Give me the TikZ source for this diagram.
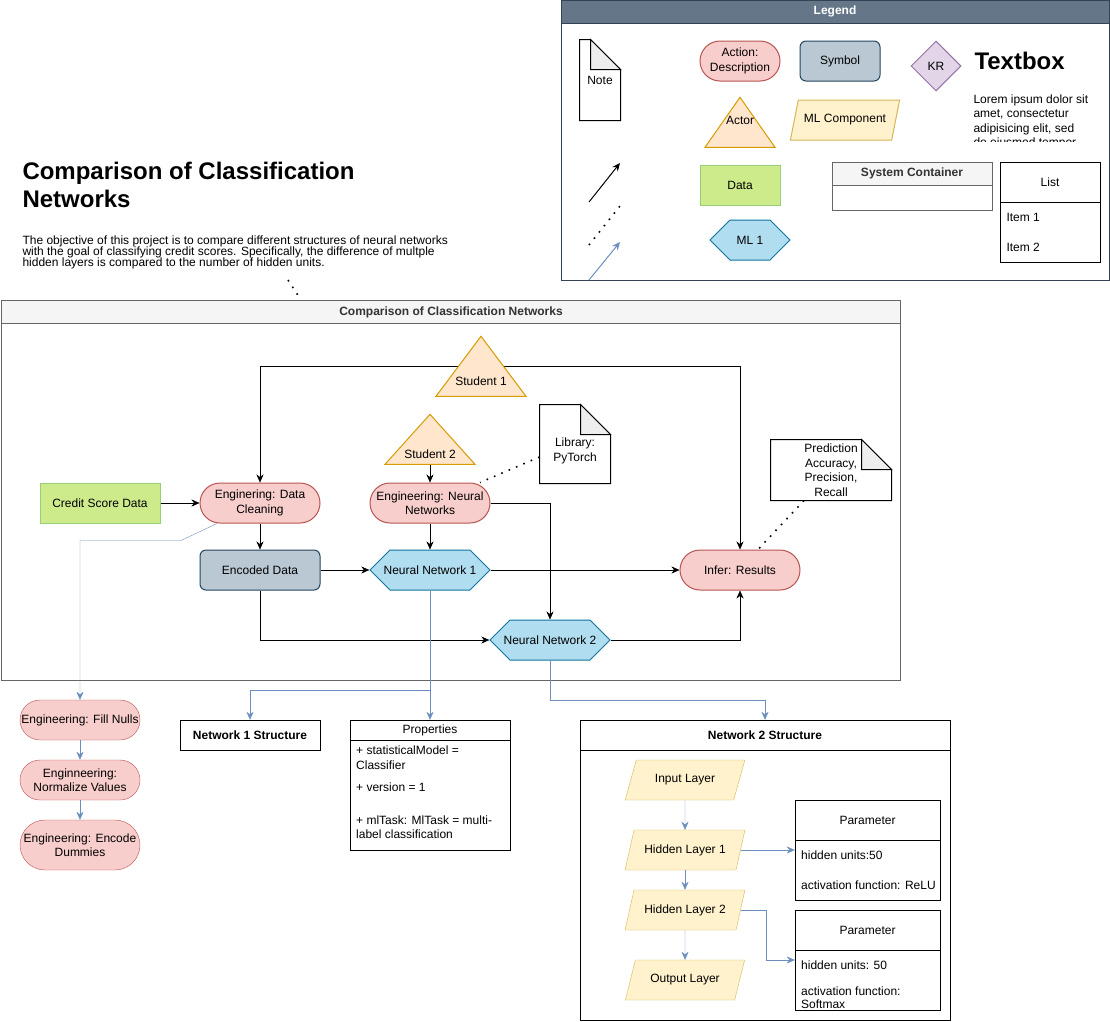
\documentclass[tikz,border=0pt]{standalone}
\usepackage{fontspec}
\setmainfont{Liberation Sans}
\usetikzlibrary{shapes.geometric,shapes.symbols,arrows.meta,backgrounds}

\definecolor{pinkfill}{HTML}{F8CECC}
\definecolor{pinkline}{HTML}{B85450}
\definecolor{slatefill}{HTML}{BAC8D3}
\definecolor{slateline}{HTML}{23445D}
\definecolor{greenfill}{HTML}{CDEB8B}
\definecolor{greenline}{HTML}{97D077}
\definecolor{hexfill}{HTML}{B1DDF0}
\definecolor{hexline}{HTML}{10739E}
\definecolor{actorfill}{HTML}{FFE6CC}
\definecolor{actorline}{HTML}{D79B00}
\definecolor{layerfill}{HTML}{FFF2CC}
\definecolor{layerline}{HTML}{D6B656}
\definecolor{krfill}{HTML}{E1D5E7}
\definecolor{krline}{HTML}{9673A6}
\definecolor{legendfill}{HTML}{647687}
\definecolor{legendline}{HTML}{314354}
\definecolor{swimfill}{HTML}{F5F5F5}
\definecolor{swimline}{HTML}{666666}
\definecolor{swimtext}{HTML}{333333}
\definecolor{flowblue}{HTML}{6C8EBF}
\definecolor{foldgrey}{HTML}{EEEEEE}

\newcommand{\txt}{\fontsize{12}{14.5}\selectfont}
\newcommand{\paratxt}{\fontsize{12}{11.2}\selectfont\lineskiplimit=-20pt\relax}
\newcommand{\dogear}[1]{%
  \draw (#1.north west) -- ([xshift=-30pt]#1.north east) -- ([yshift=-30pt]#1.north east) -- (#1.south east) -- (#1.south west) -- cycle;
  \draw[fill=foldgrey] ([xshift=-30pt]#1.north east) -- ([xshift=-30pt,yshift=-30pt]#1.north east) -- ([yshift=-30pt]#1.north east) -- cycle;}

\tikzset{
  every node/.style={font=\txt, align=center, inner sep=1pt},
  action/.style={draw=pinkline, fill=pinkfill, rounded corners=20pt, minimum width=120pt, minimum height=40pt},
  symbolbox/.style={draw=slateline, fill=slatefill, rounded corners=6pt, minimum width=120pt, minimum height=40pt},
  databox/.style={draw=greenline, fill=greenfill, minimum width=120pt, minimum height=40pt},
  mlbox/.style={signal, signal to=east and west, draw=hexline, fill=hexfill, inner xsep=-10pt, minimum width=120pt, minimum height=40pt},
  actor/.style={isosceles triangle, isosceles triangle stretches, shape border rotate=90, draw=actorline, fill=actorfill, inner sep=0, minimum width=90pt, minimum height=60pt, anchor=apex},
  layer/.style={trapezium, trapezium left angle=61, trapezium right angle=119, trapezium stretches, draw=layerline, fill=layerfill, minimum width=120pt, minimum height=40pt},
  swimhead/.style={draw=swimline, fill=swimfill, text=swimtext, font=\txt\bfseries, minimum height=23pt, anchor=north},
  bodytext/.style={anchor=north west, align=left, inner sep=0},
  flow/.style={-{Stealth[length=8pt,width=7pt]}},
  flowb/.style={flow, color=flowblue},
  dotline/.style={line width=1.6pt, dash pattern=on 1.6pt off 6.4pt}
}

\begin{document}
\begin{tikzpicture}[x=1pt, y=-1pt, line width=1pt]
\useasboundingbox (0,0) rectangle (1110,1021);

\node[draw=legendline, minimum width=548pt, minimum height=280pt] (legend) at (835,140) {};
\node[draw=legendline, fill=legendfill, text=white, font=\txt\bfseries, minimum width=548pt, minimum height=23pt, anchor=north] (legendhead) at (legend.north) {Legend};
\node[minimum width=40pt, minimum height=80pt] (legnote) at (600,80) {Note};
\dogear{legnote}
\node[action, minimum width=80pt] (legaction) at (740,61) {Action:\\Description};
\node[symbolbox, minimum width=80pt] (legsymbol) at (840,61) {Symbol};
\node[diamond, draw=krline, fill=krfill, minimum width=50pt, minimum height=50pt] (legkr) at (936,66) {KR};
\node[anchor=base west, inner sep=0, font=\fontsize{24}{29}\selectfont\bfseries] (legtextbox) at (974,69) {Textbox};
\begin{scope}
\clip (960,85) rectangle (1108,141);
\node[bodytext] (loremtext) at (973,94) {Lorem ipsum dolor sit\\amet, consectetur\\adipisicing elit, sed\\do eiusmod tempor\\incididunt ut labore};
\end{scope}
\node[actor, minimum width=70pt, minimum height=50pt, label={[anchor=center, yshift=27pt]south:Actor}] (legactor) at (740,96) {};
\node[layer, minimum width=110pt] (legmlcomp) at (845,120) {ML Component};
\node[databox, minimum width=80pt] (legdata) at (740,185) {Data};
\node[mlbox, minimum width=80pt] (legml) at (750,240) {ML 1};
\node[draw=swimline, minimum width=160pt, minimum height=48pt] (legsys) at (912,186) {};
\node[swimhead, minimum width=160pt] (legsyshead) at (legsys.north) {System Container};
\node[draw, minimum width=100pt, minimum height=100pt] (leglist) at (1050,212) {};
\node[draw, minimum width=100pt, minimum height=40pt, anchor=north] (leglisthead) at (leglist.north) {List};
\node[anchor=west] (legitem1) at (1005,217) {Item 1};
\node[anchor=west] (legitem2) at (1005,247) {Item 2};
\draw[flow] (589,202) -- (620,163);
\draw[dotline] (589,245) -- (620,206);
\draw[flowb] (589,280) -- (620,242);

\node[bodytext, font=\fontsize{24}{28}\selectfont\bfseries] (title) at (22,162) {Comparison of Classification\\Networks};
\node[bodytext, font=\paratxt] (para) at (22,235) {The objective of this project is to compare different structures of neural networks\\with the goal of classifying credit scores. Specifically, the difference of multple\\hidden layers is compared to the number of hidden units.};

\node[draw=swimline, minimum width=899pt, minimum height=380pt, anchor=north west] (main) at (1,300) {};
\node[swimhead, minimum width=899pt] (mainhead) at (main.north) {Comparison of Classification Networks};
\coordinate (paraend) at (288,280);
\draw[dotline] (paraend) -- ([xshift=-150pt]mainhead.north);

\node[actor, label={[anchor=center, yshift=16pt]south:Student 1}] (s1) at (481,335) {};
\node[actor, minimum height=50pt, label={[anchor=center, yshift=11pt]south:Student 2}] (s2) at (430,413) {};
\node[minimum width=70pt, minimum height=78pt] (lib) at (575,444) {\rule{0pt}{22pt}Library:\\PyTorch};
\dogear{lib}
\node[minimum width=120pt, minimum height=60pt] (pred) at (831,470) {Prediction\\Accuracy,\\Precision,\\Recall};
\dogear{pred}
\node[databox] (credit) at (100,503) {Credit Score Data};
\node[action] (clean) at (260,503) {Enginering: Data\\Cleaning};
\node[action] (engnn) at (430,503) {Engineering: Neural\\Networks};
\node[symbolbox] (enc) at (260,570) {Encoded Data};
\node[mlbox] (nn1) at (430,570) {Neural Network 1};
\node[mlbox] (nn2) at (550,640) {Neural Network 2};
\node[action] (infer) at (740,570) {Infer: Results};

\begin{pgfonlayer}{background}
\draw[flow] (s1.left side) -| (clean.north);
\draw[flow] (s1.right side) -| (infer.north);
\end{pgfonlayer}
\draw[flow] (s2.south) -- (engnn.north);
\draw[flow] (credit.east) -- (clean.west);
\draw[flow] (clean.south) -- (enc.north);
\draw[flow] (engnn.south) -- (nn1.north);
\draw[flow] (engnn.east) -| (nn2.north);
\draw[flow] (enc.east) -- (nn1.west);
\draw[flow] (nn1.east) -- (infer.west);
\draw[flow] (enc.south) |- (nn2.west);
\draw[flow] (nn2.east) -| (infer.south);
\draw[dotline] ([yshift=-13pt]lib.west) -- ([xshift=50pt]engnn.north);
\draw[dotline] ([xshift=-27pt]pred.south) -- ([xshift=18pt]infer.north);

\node[action] (fill) at (80,720) {Engineering: Fill Nulls};
\node[action] (norm) at (80,780) {Enginneering:\\Normalize Values};
\node[action, minimum height=50pt, rounded corners=25pt] (dummies) at (80,845) {Engineering: Encode\\Dummies};
\node[draw, font=\txt\bfseries, minimum width=140pt, minimum height=30pt] (net1) at (250,735) {Network 1 Structure};
\node[draw, minimum width=160pt, minimum height=130pt] (props) at (430,785) {};
\node[draw, minimum width=160pt, minimum height=20pt, anchor=north] (propshead) at (props.north) {Properties};
\node[bodytext] (propsbody) at (356,746) {+ statisticalModel =\\Classifier\\[8pt]+ version = 1\\[18pt]+ mlTask: MlTask = multi-\\label classification};

\node[draw, minimum width=370pt, minimum height=300pt] (net2) at (765,870) {};
\node[draw, font=\txt\bfseries, minimum width=370pt, minimum height=30pt, anchor=north] (net2head) at (net2.north) {Network 2 Structure};
\node[layer] (input) at (685,780) {Input Layer};
\node[layer] (hl1) at (685,850) {Hidden Layer 1};
\node[layer] (hl2) at (685,910) {Hidden Layer 2};
\node[layer] (output) at (685,980) {Output Layer};
\node[draw, minimum width=145pt, minimum height=100pt] (p1) at (867.5,850) {};
\node[draw, minimum width=145pt, minimum height=40pt, anchor=north] (p1head) at (p1.north) {Parameter};
\node[bodytext] (p1body) at (801,851) {hidden units:50\\[15pt]activation function: ReLU};
\node[draw, minimum width=145pt, minimum height=100pt] (p2) at (867.5,960) {};
\node[draw, minimum width=145pt, minimum height=40pt, anchor=north] (p2head) at (p2.north) {Parameter};
\node[bodytext] (p2body) at (801,961) {hidden units: 50\\[11pt]activation function:\\[-1.5pt]Softmax};

\draw[flowb] ([xshift=-43pt]clean.south) -- ++(-36,17) -| (fill.north);
\draw[flowb] (nn1.south) -- ++(0,100) -| (net1.north);
\draw[flowb] (nn1.south) -- (props.north);
\draw[flowb] (nn2.south) -- ++(0,40) -| (net2.north);
\draw[flowb] (fill.south) -- (norm.north);
\draw[flowb] (norm.south) -- (dummies.north);
\draw[flowb] (input.south) -- (hl1.north);
\draw[flowb] (hl1.south) -- (hl2.north);
\draw[flowb] (hl2.south) -- (output.north);
\draw[flowb] (hl1.east) -- (p1.west);
\draw[flowb] (hl2.east) -- ++(26,0) |- (p2.west);
\end{tikzpicture}
\end{document}
